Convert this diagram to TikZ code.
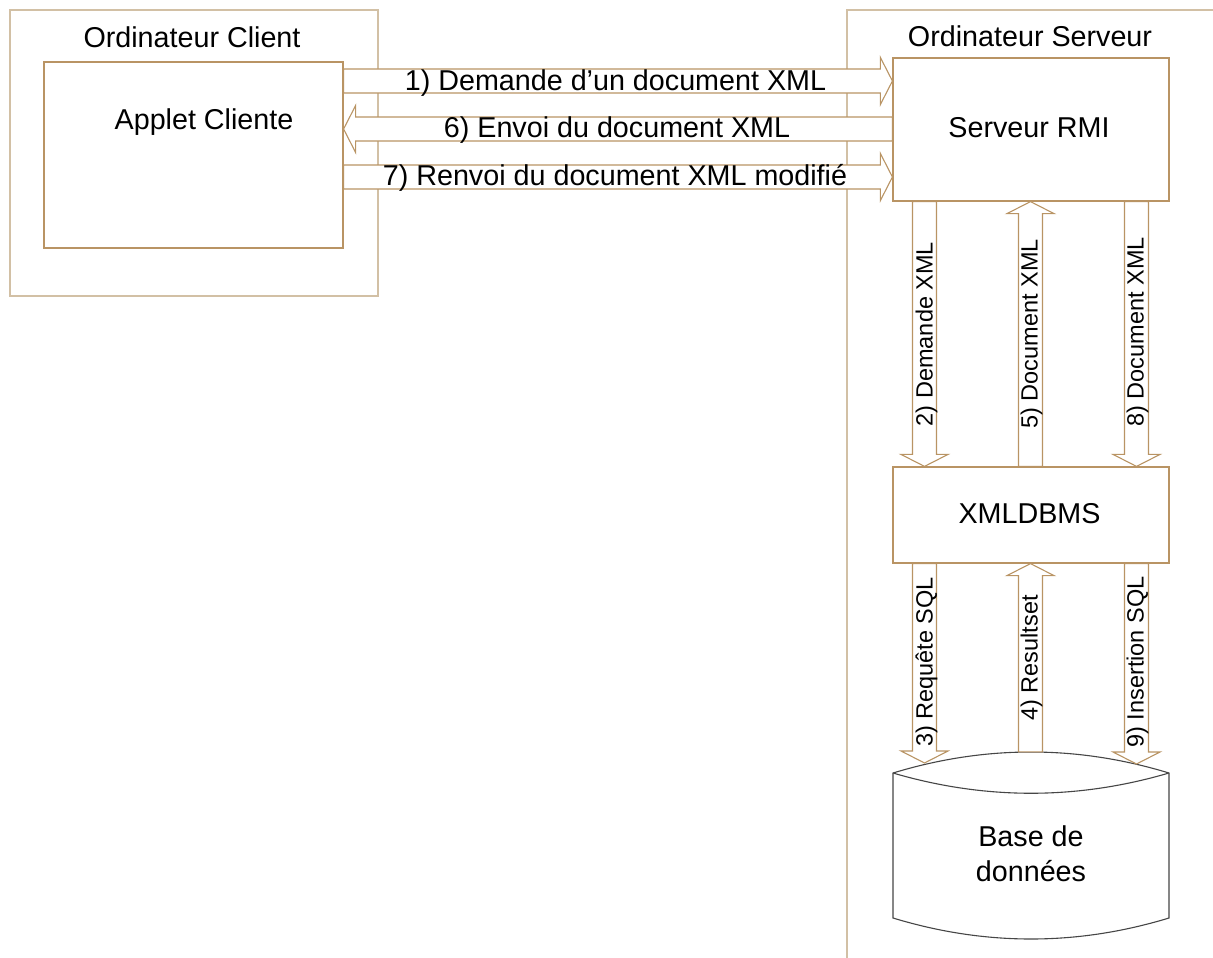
\documentclass[tikz,border=0pt]{standalone}
\usepackage{fontspec}
\setmainfont{Liberation Sans}
\usetikzlibrary{calc}

\definecolor{frameline}{RGB}{210,192,165}
\definecolor{boxline}{RGB}{185,148,100}
\definecolor{dbline}{RGB}{70,70,70}

\tikzset{
  frame/.style={draw=frameline, line width=1.6pt},
  box/.style={draw=boxline, line width=1.2pt, fill=white, inner sep=0pt},
  dbshape/.style={draw=dbline, line width=1.1pt, fill=white},
  barrow/.style={draw=boxline, line width=1.1pt, fill=white, line join=miter},
  bigtext/.style={font=\fontsize{28.7}{35}\selectfont, inner sep=0pt, anchor=base},
  arrowtext/.style={font=\fontsize{23.5}{28}\selectfont, inner sep=0pt, anchor=base, rotate=90},
}

% Block arrow between two points: shaft 24 wide, head 47 wide and 12 long
\newcommand\blockarrow[2]{%
  \coordinate (ba-s) at (#1);
  \coordinate (ba-e) at (#2);
  \coordinate (ba-b) at ($(ba-e)!12pt!(ba-s)$);
  \draw[barrow] ($(ba-s)!12pt!90:(ba-e)$) -- ($(ba-b)!12pt!-90:(ba-s)$)
    -- ($(ba-b)!23.5pt!-90:(ba-s)$) -- (ba-e) -- ($(ba-b)!23.5pt!90:(ba-s)$)
    -- ($(ba-b)!12pt!90:(ba-s)$) -- ($(ba-s)!12pt!-90:(ba-e)$) -- cycle;
}

\begin{document}
\begin{tikzpicture}[x=1pt,y=-1pt]
\useasboundingbox (0,0) rectangle (1213,958);

% client computer frame and server computer frame
\node[frame, minimum width=368pt, minimum height=286pt, inner sep=0pt] (client) at (194,153) {};
\draw[frame] (847,958) -- (847,10) -- (1213,10);

% components
\node[box, minimum width=299pt, minimum height=186pt] (applet) at (193.5,155) {};
\node[box, minimum width=276pt, minimum height=143pt] (rmi) at (1031,129.5) {};
\node[box, minimum width=276pt, minimum height=96pt] (xmldbms) at (1031,515) {};
\node[minimum width=276pt, minimum height=187pt, inner sep=0pt] (db) at (1031,845.5) {};

% database cylinder
\draw[dbshape] (893,773) .. controls (985,745) and (1077,745) .. (1169,773)
  -- (1169,918) .. controls (1077,946) and (985,946) .. (893,918) -- cycle;
\draw[dbshape] (893,773) .. controls (985,800) and (1077,800) .. (1169,773);

% client <-> RMI server
\blockarrow{applet.east |- 0,81}{rmi.west |- 0,81}
\blockarrow{rmi.west |- 0,129}{applet.east |- 0,129}
\blockarrow{applet.east |- 0,177}{rmi.west |- 0,177}

% RMI server <-> XMLDBMS
\blockarrow{rmi.south -| 924.5,0}{xmldbms.north -| 924.5,0}
\blockarrow{xmldbms.north -| 1030.5,0}{rmi.south -| 1030.5,0}
\blockarrow{rmi.south -| 1136.5,0}{xmldbms.north -| 1136.5,0}

% XMLDBMS <-> database
\coordinate (t3) at (924.5,763);
\coordinate (t9) at (1136.5,764);
\blockarrow{xmldbms.south -| 924.5,0}{t3}
\blockarrow{db.north -| 1030.5,0}{xmldbms.south -| 1030.5,0}
\blockarrow{xmldbms.south -| 1136.5,0}{t9}

% titles
\node[bigtext] (tclient) at (192,48) {Ordinateur Client};
\node[bigtext] (tapplet) at (204,129) {Applet Cliente};
\node[bigtext] (tserver) at (1030,47) {Ordinateur Serveur};
\node[bigtext] (trmi) at (1029,137) {Serveur RMI};
\node[bigtext] (txml) at (1029.5,523) {XMLDBMS};
\node[font=\fontsize{28.7}{35}\selectfont, inner sep=0pt, align=center] (tdb) at (1031,854) {Base de\\données};

% message labels
\node[bigtext] (m1) at (615.5,90) {1) Demande d’un document XML};
\node[bigtext] (m6) at (617,137) {6) Envoi du document XML};
\node[bigtext] (m7) at (615,185) {7) Renvoi du document XML modifié};

\node[arrowtext] (m2) at (932.5,334) {2) Demande XML};
\node[arrowtext] (m5) at (1037.5,334) {5) Document XML};
\node[arrowtext] (m8) at (1143.5,332) {8) Document XML};
\node[arrowtext] (m3) at (932.5,662) {3) Requête SQL};
\node[arrowtext] (m4) at (1037.5,658) {4) Resultset};
\node[arrowtext] (m9) at (1143.5,662) {9) Insertion SQL};
\end{tikzpicture}
\end{document}
